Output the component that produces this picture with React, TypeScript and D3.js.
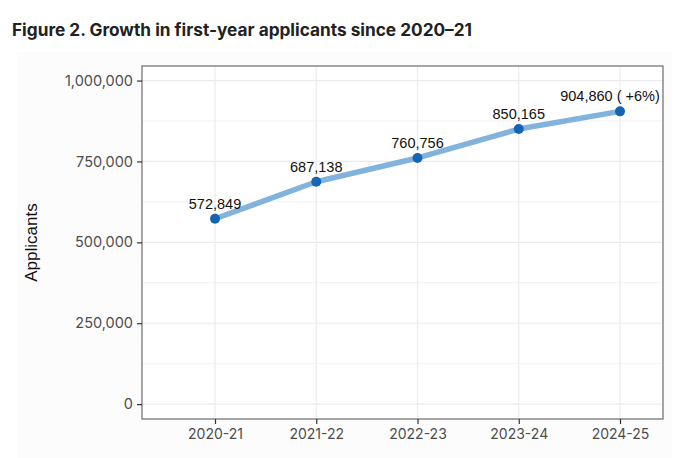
import { useEffect, useRef } from 'react';
import * as d3 from 'd3';

// data
const years = ['2020-21', '2021-22', '2022-23', '2023-24', '2024-25'];
const applicants = [572849, 687138, 760756, 850165, 904860];
const pointLabels = ['572,849', '687,138', '760,756', '850,165', '904,860 ( +6%)'];
const yTicks = [0, 250000, 500000, 750000, 1000000];
const yMinorTicks = [125000, 375000, 625000, 875000];

export default function App() {
  const svgRef = useRef<SVGSVGElement>(null);

  useEffect(() => {
    if (!svgRef.current) return;
    const svg = d3.select(svgRef.current);
    svg.selectAll('*').remove();

    const width = 687;
    const height = 458;
    const panel = { left: 142, right: 663, top: 66, bottom: 419 };

    // faint page background behind the plot
    svg.append('rect')
      .attr('x', 0).attr('y', 0).attr('width', width).attr('height', height)
      .attr('fill', '#ffffff');
    svg.append('rect')
      .attr('x', 17).attr('y', 52).attr('width', 655).attr('height', height - 52)
      .attr('fill', '#fcfcfc');

    // title
    svg.append('text')
      .attr('x', 12)
      .attr('y', 36)
      .attr('fill', '#222222')
      .attr('font-family', 'Inter, "Noto Sans", sans-serif')
      .attr('font-weight', 700)
      .attr('font-size', '17px')
      .attr('textLength', 460)
      .attr('lengthAdjust', 'spacingAndGlyphs')
      .text('Figure 2. Growth in first-year applicants since 2020–21');

    const x = d3.scalePoint<string>()
      .domain(years)
      .range([215, 620]);

    const y = d3.scaleLinear()
      .domain([-46000, 1045000])
      .range([panel.bottom, panel.top]);

    // panel background
    svg.append('rect')
      .attr('x', panel.left).attr('y', panel.top)
      .attr('width', panel.right - panel.left)
      .attr('height', panel.bottom - panel.top)
      .attr('fill', '#ffffff');

    // minor grid
    svg.append('g')
      .selectAll('line')
      .data(yMinorTicks)
      .join('line')
      .attr('x1', panel.left).attr('x2', panel.right)
      .attr('y1', d => y(d)).attr('y2', d => y(d))
      .attr('stroke', '#f2f2f2')
      .attr('stroke-width', 1);

    // major grid
    svg.append('g')
      .selectAll('line')
      .data(yTicks)
      .join('line')
      .attr('x1', panel.left).attr('x2', panel.right)
      .attr('y1', d => y(d)).attr('y2', d => y(d))
      .attr('stroke', '#ebebeb')
      .attr('stroke-width', 1.2);

    svg.append('g')
      .selectAll('line')
      .data(years)
      .join('line')
      .attr('x1', d => x(d)!).attr('x2', d => x(d)!)
      .attr('y1', panel.top).attr('y2', panel.bottom)
      .attr('stroke', '#ebebeb')
      .attr('stroke-width', 1.2);

    // line + points
    const pts = years.map((yr, i) => ({ yr, v: applicants[i], label: pointLabels[i] }));
    const line = d3.line<{ yr: string; v: number }>()
      .x(d => x(d.yr)!)
      .y(d => y(d.v));

    svg.append('path')
      .attr('d', line(pts))
      .attr('fill', 'none')
      .attr('stroke', '#82b3dc')
      .attr('stroke-width', 5.5)
      .attr('stroke-linejoin', 'round')
      .attr('stroke-linecap', 'butt');

    svg.append('g')
      .selectAll('circle')
      .data(pts)
      .join('circle')
      .attr('cx', d => x(d.yr)!)
      .attr('cy', d => y(d.v))
      .attr('r', 5)
      .attr('fill', '#1565b3');

    svg.append('g')
      .selectAll('text')
      .data(pts)
      .join('text')
      .attr('x', (d, i) => x(d.yr)! - (i === pts.length - 1 ? 10 : 0))
      .attr('y', d => y(d.v) - 10)
      .attr('text-anchor', 'middle')
      .attr('fill', '#111111')
      .attr('font-family', '"Liberation Sans", Arial, sans-serif')
      .attr('font-size', '14.5px')
      .text(d => d.label);

    // panel border
    svg.append('rect')
      .attr('x', panel.left).attr('y', panel.top)
      .attr('width', panel.right - panel.left)
      .attr('height', panel.bottom - panel.top)
      .attr('fill', 'none')
      .attr('stroke', '#6b6b6b')
      .attr('stroke-width', 1.2);

    // y axis
    const yAxis = svg.append('g')
      .attr('transform', `translate(${panel.left},0)`)
      .call(d3.axisLeft(y).tickValues(yTicks).tickSize(5).tickPadding(4)
        .tickFormat(d => d3.format(',')(d as number)));
    yAxis.select('.domain').remove();
    yAxis.selectAll('line').attr('stroke', '#333333').attr('stroke-width', 1.2);
    yAxis.selectAll('text')
      .attr('fill', '#4d4d4d')
      .attr('font-family', 'Inter, "Noto Sans", sans-serif')
      .attr('font-size', '14.5px');

    // x axis
    const xAxis = svg.append('g')
      .attr('transform', `translate(0,${panel.bottom})`)
      .call(d3.axisBottom(x).tickSize(5).tickPadding(5));
    xAxis.select('.domain').remove();
    xAxis.selectAll('line').attr('stroke', '#333333').attr('stroke-width', 1.2);
    xAxis.selectAll('text')
      .attr('fill', '#4d4d4d')
      .attr('font-family', 'Inter, "Noto Sans", sans-serif')
      .attr('font-size', '14px');

    // axis title
    svg.append('text')
      .attr('transform', `translate(37,${(panel.top + panel.bottom) / 2}) rotate(-90)`)
      .attr('text-anchor', 'middle')
      .attr('fill', '#111111')
      .attr('font-family', '"Liberation Sans", Arial, sans-serif')
      .attr('font-size', '17px')
      .text('Applicants');
  }, []);

  return (
    <div style={{ position: 'fixed', left: 0, top: 0, width: 687, height: 458, background: '#fff' }}>
      <svg ref={svgRef} width={687} height={458} style={{ display: 'block' }} />
    </div>
  );
}
